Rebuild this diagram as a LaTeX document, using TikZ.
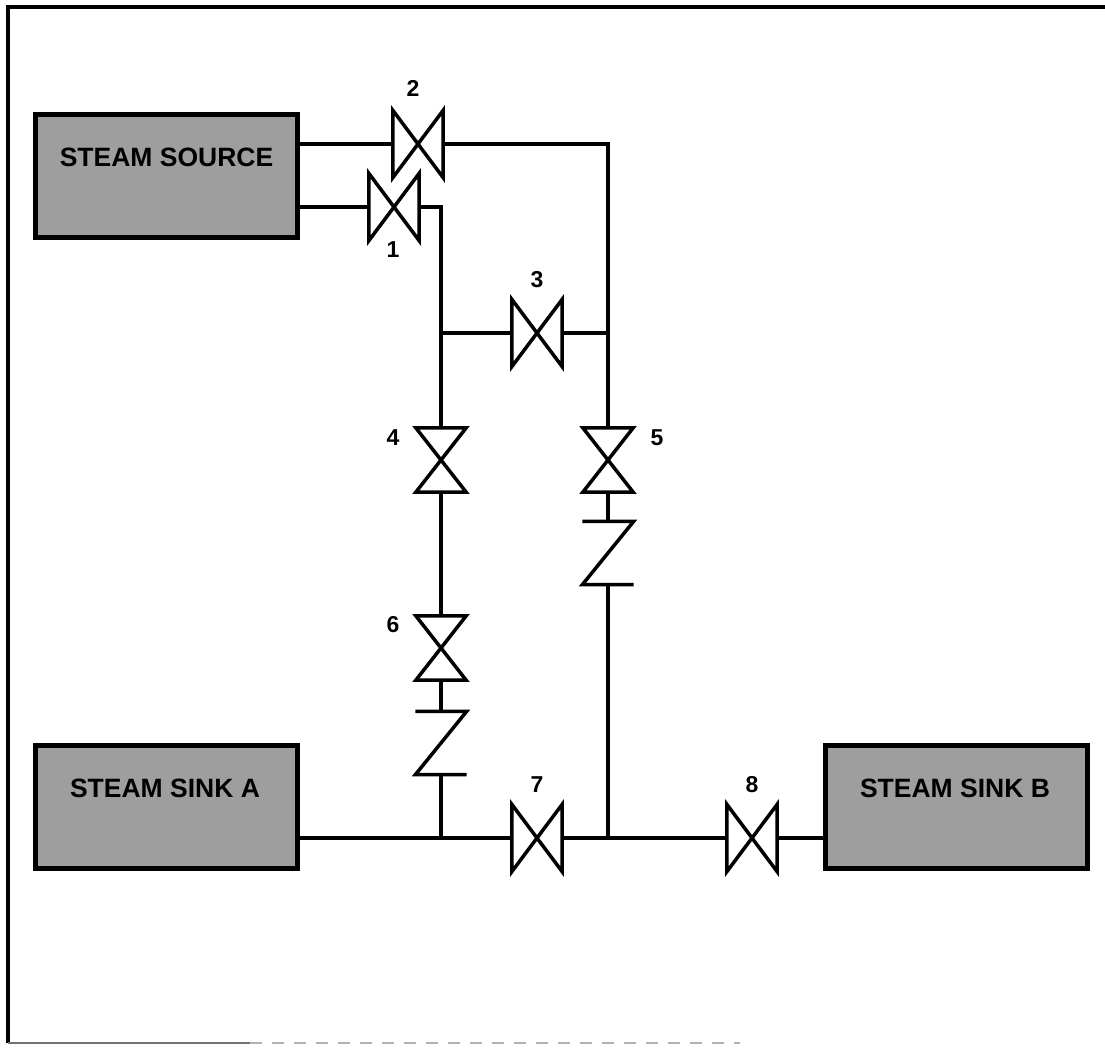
\documentclass[tikz,border=0pt]{standalone}
\usepackage{fontspec}
\setmainfont{Liberation Sans}
\usetikzlibrary{positioning}

\tikzset{
  pipe/.style={line width=4pt},
  tank/.style={draw, line width=5.5pt, fill=black!38, minimum width=262pt, minimum height=123pt, inner sep=0pt},
  tanktext/.style={font=\fontsize{26.5}{26.5}\selectfont\bfseries},
  hvalve/.style={minimum width=50pt, minimum height=67pt, inner sep=0pt},
  vvalve/.style={minimum width=50pt, minimum height=64pt, inner sep=0pt},
  checkv/.style={minimum width=51pt, minimum height=63pt, inner sep=0pt},
  num/.style={font=\fontsize{23}{23}\selectfont\bfseries},
  sym/.style={line width=3.5pt, line join=miter}
}
\newcommand{\hbowtie}[1]{\draw[sym] (#1.north west) -- (#1.south east) -- (#1.north east) -- (#1.south west) -- cycle;}
\newcommand{\vbowtie}[1]{\draw[sym] (#1.north west) -- (#1.north east) -- (#1.south west) -- (#1.south east) -- cycle;}
\newcommand{\zcheck}[1]{\draw[sym] (#1.north west) -- (#1.north east) -- (#1.south west) -- (#1.south east);}

\begin{document}
\begin{tikzpicture}[x=1pt,y=-1pt]
  \useasboundingbox (0,0) rectangle (1105,1048);
  % frame
  \draw[line width=4pt] (8,1043) -- (8,7) -- (1105,7);
  \draw[line width=2pt, black!55] (8,1043) -- (250,1043);
  \draw[line width=1.5pt, black!30, dash pattern=on 12pt off 10pt] (250,1043) -- (740,1043);

  % tanks
  \node[tank] (source) at (166.5,176) {};
  \node[tank] (sinkA) at (166.5,807) {};
  \node[tank] (sinkB) at (956.5,807) {};
  \node[tanktext] (sourcetext) at (166.5,157) {STEAM SOURCE};
  \node[tanktext] (sinkAtext) at (165,788) {STEAM SINK A};
  \node[tanktext] (sinkBtext) at (955,788) {STEAM SINK B};

  % valves
  \node[hvalve] (v1) at (394,207) {};
  \node[hvalve] (v2) at (418,144) {};
  \node[hvalve] (v3) at (537,333) {};
  \node[vvalve] (v4) at (441,460) {};
  \node[vvalve] (v5) at (608,460) {};
  \node[vvalve] (v6) at (441,648) {};
  \node[hvalve] (v7) at (537,838) {};
  \node[hvalve] (v8) at (752,838) {};
  \node[checkv] (c5) at (608,553) {};
  \node[checkv] (c6) at (441,743) {};
  \hbowtie{v1} \hbowtie{v2} \hbowtie{v3} \hbowtie{v7} \hbowtie{v8}
  \vbowtie{v4} \vbowtie{v5} \vbowtie{v6}
  \zcheck{c5} \zcheck{c6}

  % valve numbers
  \node[num] (n1) at (393,250) {1};
  \node[num] (n2) at (413,88) {2};
  \node[num] (n3) at (537,280) {3};
  \node[num] (n4) at (393,438) {4};
  \node[num] (n5) at (657,438) {5};
  \node[num] (n6) at (393,625) {6};
  \node[num] (n7) at (537,785) {7};
  \node[num] (n8) at (752,785) {8};

  % piping
  \coordinate (tl) at (441,207);
  \coordinate (tr) at (608,144);
  \coordinate (m1) at (441,333);
  \coordinate (m2) at (608,333);
  \coordinate (b1) at (441,838);
  \coordinate (b2) at (608,838);
  \draw[pipe] (source.east |- v2) -- (v2.west);
  \draw[pipe] (v2.east) -- (tr) -- (m2) -- (v5.north);
  \draw[pipe] (source.east |- v1) -- (v1.west);
  \draw[pipe] (v1.east) -- (tl) -- (m1) -- (v4.north);
  \draw[pipe] (m1) -- (v3.west);
  \draw[pipe] (v3.east) -- (m2);
  \draw[pipe] (v4.south) -- (v6.north);
  \draw[pipe] (v6.south) -- (c6.north);
  \draw[pipe] (c6.south) -- (b1);
  \draw[pipe] (v5.south) -- (c5.north);
  \draw[pipe] (c5.south) -- (b2);
  \draw[pipe] (sinkA.east |- b1) -- (v7.west);
  \draw[pipe] (v7.east) -- (v8.west);
  \draw[pipe] (v8.east) -- (sinkB.west |- b1);
\end{tikzpicture}
\end{document}
